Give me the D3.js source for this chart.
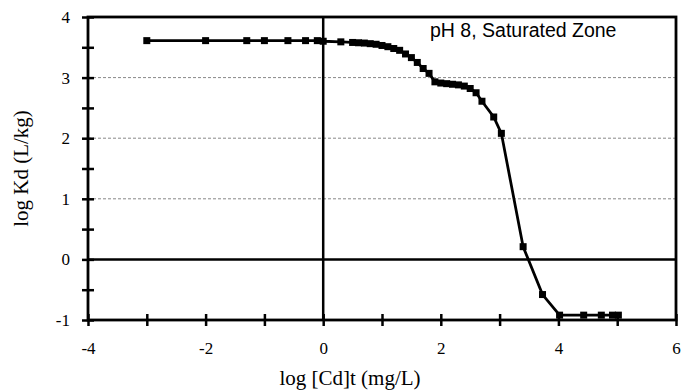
<!DOCTYPE html>
<html><head><meta charset="utf-8">
<script src="https://cdn.jsdelivr.net/npm/d3@7"></script>
<style>body{margin:0;background:#fff}svg{display:block}</style>
</head><body>
<script>
const xValues = [-3, -2, -1.3, -1, -0.6, -0.3, -0.1, 0, 0.3, 0.5, 0.6, 0.7, 0.8, 0.9, 1.0, 1.1, 1.2, 1.3, 1.4, 1.5, 1.6, 1.7, 1.8, 1.9, 2.0, 2.1, 2.2, 2.3, 2.4, 2.5, 2.6, 2.7, 2.9, 3.03, 3.4, 3.73, 4.02, 4.43, 4.73, 4.92, 5.02];
const yValues = [3.61, 3.61, 3.61, 3.61, 3.61, 3.61, 3.61, 3.6, 3.59, 3.58, 3.575, 3.57, 3.56, 3.55, 3.53, 3.51, 3.48, 3.45, 3.39, 3.33, 3.25, 3.15, 3.07, 2.93, 2.91, 2.9, 2.89, 2.88, 2.86, 2.82, 2.75, 2.61, 2.35, 2.08, 0.21, -0.58, -0.92, -0.92, -0.92, -0.92, -0.92];
const xTickLabels = [-4, -2, 0, 2, 4, 6];
const yTickLabels = [-1, 0, 1, 2, 3, 4];
const gridValues = [1, 2, 3];
const annotation = "pH 8, Saturated Zone";

const W = 683, H = 391;
const m = {l: 88, r: 676, t: 17, b: 320};
const serif = "Liberation Serif, Times New Roman, serif";
const svg = d3.select("body").append("svg").attr("width", W).attr("height", H);
const x = d3.scaleLinear().domain([-4, 6]).range([m.l, m.r]);
const y = d3.scaleLinear().domain([-1, 4]).range([m.b, m.t]);

// gridlines
svg.append("g").selectAll("line").data(gridValues).join("line")
  .attr("x1", m.l).attr("x2", m.r).attr("y1", d => y(d)).attr("y2", d => y(d))
  .attr("stroke", "#888").attr("stroke-width", 1).attr("stroke-dasharray", "3,2");

// zero lines
svg.append("line").attr("x1", m.l).attr("x2", m.r).attr("y1", y(0)).attr("y2", y(0)).attr("stroke", "#000").attr("stroke-width", 2.5);
svg.append("line").attr("x1", x(0)).attr("x2", x(0)).attr("y1", m.t).attr("y2", m.b).attr("stroke", "#000").attr("stroke-width", 2.5);

// frame
svg.append("rect").attr("x", m.l).attr("y", m.t).attr("width", m.r - m.l).attr("height", m.b - m.t)
  .attr("fill", "none").attr("stroke", "#000").attr("stroke-width", 2.8);

// y axis ticks (every 0.5, crossing)
const yAxis = d3.axisLeft(y).tickValues(d3.range(-1, 4.01, 0.5)).tickSize(6)
  .tickFormat(d => yTickLabels.includes(d) ? d : "");
const gy = svg.append("g").attr("transform", `translate(${m.l},0)`).call(yAxis);
gy.select(".domain").remove();
gy.selectAll(".tick line").attr("x1", -6).attr("x2", 6).attr("stroke-width", 2.5);
gy.selectAll(".tick text").attr("x", -18).attr("font-family", serif).attr("font-size", 17).attr("fill", "#000");

// x axis ticks (every 1, crossing)
const xAxis = d3.axisBottom(x).tickValues(d3.range(-4, 6.01, 1)).tickSize(6)
  .tickFormat(d => xTickLabels.includes(d) ? d : "");
const gx = svg.append("g").attr("transform", `translate(0,${m.b})`).call(xAxis);
gx.select(".domain").remove();
gx.selectAll(".tick line").attr("y1", -6).attr("y2", 6).attr("stroke-width", 2.5);
gx.selectAll(".tick text").attr("y", 22).attr("font-family", serif).attr("font-size", 17).attr("fill", "#000");

// data
const data = xValues.map((v, i) => [v, yValues[i]]);
svg.append("path").datum(data)
  .attr("d", d3.line().x(d => x(d[0])).y(d => y(d[1])))
  .attr("fill", "none").attr("stroke", "#000").attr("stroke-width", 2.8);
svg.append("g").selectAll("rect").data(data).join("rect")
  .attr("x", d => x(d[0]) - 3.5).attr("y", d => y(d[1]) - 3.5)
  .attr("width", 7).attr("height", 7).attr("fill", "#000");

// titles
svg.append("text").attr("x", 350).attr("y", 385).attr("text-anchor", "middle")
  .attr("font-family", serif).attr("font-size", 21).text("log [Cd]t (mg/L)");
svg.append("text").attr("transform", `translate(28,${(m.t + m.b) / 2}) rotate(-90)`).attr("text-anchor", "middle")
  .attr("font-family", serif).attr("font-size", 21).text("log Kd (L/kg)");
svg.append("text").attr("x", 430).attr("y", 37)
  .attr("font-family", "Liberation Sans, Arial, sans-serif").attr("font-size", 19.5).text(annotation);
</script>
</body></html>
